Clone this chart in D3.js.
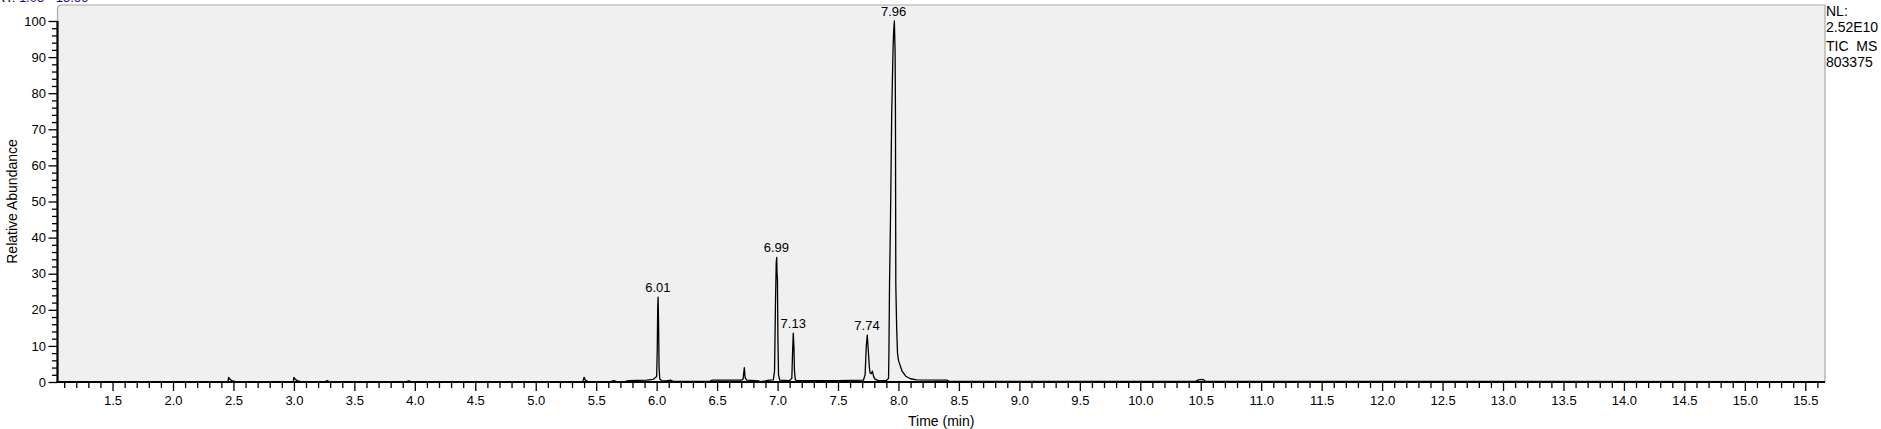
<!DOCTYPE html>
<html><head><meta charset="utf-8">
<script src="https://cdn.jsdelivr.net/npm/d3@7"></script>
<style>
body{margin:0;background:#fff;overflow:hidden}
svg{display:block}
text{font-family:"Liberation Sans",Arial,sans-serif;fill:#000}
</style>
</head><body>
<svg id="chart" width="1881" height="429"></svg>
<script>
// ---- data ----
const times = [
  1.045, 2.40, 2.455, 2.46, 2.47, 2.49, 2.52,
  2.97, 2.995, 3.00, 3.01, 3.03, 3.06,
  3.26, 3.275, 3.29, 3.93, 3.95, 3.97,
  5.37, 5.39, 5.40, 5.41, 5.43, 5.46,
  5.62, 5.645, 5.67, 5.74, 5.77, 5.92, 5.97, 6.000,
  6.005, 6.009, 6.012, 6.016, 6.020, 6.026, 6.04,
  6.08, 6.115, 6.14, 6.44, 6.46,
  6.70, 6.715, 6.725, 6.732, 6.745, 6.84, 6.86, 6.90, 6.93,
  6.965, 6.975, 6.983, 6.989, 6.993, 6.996, 6.999, 7.003, 7.008, 7.018,
  7.10, 7.118, 7.124, 7.130, 7.135, 7.140, 7.147, 7.16,
  7.50, 7.71, 7.724, 7.734, 7.742, 7.750, 7.759, 7.765, 7.775, 7.784, 7.795, 7.806, 7.833,
  7.90, 7.918, 7.921, 7.926, 7.934, 7.944, 7.955, 7.960, 7.966, 7.972, 7.975, 7.978,
  7.985, 7.992, 8.00, 8.03, 8.06, 8.10, 8.15, 8.40, 8.42,
  10.46, 10.48, 10.52, 10.54, 15.663
];
const abundance = [
  0.1, 0.1, 0.2, 1.3, 0.8, 0.3, 0.1,
  0.1, 0.2, 1.3, 0.8, 0.3, 0.1,
  0.1, 0.4, 0.1, 0.1, 0.35, 0.1,
  0.1, 0.2, 1.3, 0.5, 0.2, 0.1,
  0.1, 0.4, 0.1, 0.2, 0.4, 0.5, 0.7, 1.5,
  9, 21, 23.5, 16, 4, 0.8, 0.4,
  0.3, 0.5, 0.2, 0.2, 0.5,
  0.5, 0.8, 4.0, 1.2, 0.5, 0.3, 0.1, 0.3, 0.5,
  0.6, 3, 22, 33, 34.5, 30, 28.5, 12, 2, 0.5,
  0.4, 1, 8, 13.5, 10, 3, 0.6, 0.4,
  0.4, 0.5, 2, 10, 13, 9, 4.2, 2.5, 2.3, 3.0, 1.5, 0.8, 0.4,
  0.4, 1, 8, 27, 45, 74, 92, 97, 100, 92, 75, 27,
  15, 8, 6, 3, 1.6, 0.9, 0.6, 0.5, 0.2,
  0.2, 0.6, 0.7, 0.2, 0.1
];
const peakLabels = ["6.01", "6.99", "7.13", "7.74", "7.96"];
const xMajorTicks = [1.5,2.0,2.5,3.0,3.5,4.0,4.5,5.0,5.5,6.0,6.5,7.0,7.5,8.0,8.5,9.0,9.5,10.0,10.5,11.0,11.5,12.0,12.5,13.0,13.5,14.0,14.5,15.0,15.5];
const yMajorTicks = [0,10,20,30,40,50,60,70,80,90,100];
const infoLines = ["NL:", "2.52E10", "TIC  MS", "803375"];
const rangeLabel = ["RT: ", "1.03 - 15.66"];
const xTitle = "Time (min)";
const yTitle = "Relative Abundance";

// ---- layout ----
const svg = d3.select("#chart");
const L = 57.5, R = 1825, T = 5, B = 382;
const x = d3.scaleLinear().domain([2.0, 15.5]).range([173, 1805.3]);
const y = d3.scaleLinear().domain([0, 100]).range([B, 21]);

// plot background with rounded top-left corner
svg.append("path")
  .attr("d", `M${L},${B} V${T+4} Q${L},${T} ${L+4},${T} H${R} V${B}`)
  .attr("fill", "#f0f0f0").attr("stroke", "#a9a9a9").attr("stroke-width", 1.2);

// minor ticks
const xMinor = d3.range(11, 157).map(d => d / 10).filter(v => Math.abs(v*2 - Math.round(v*2)) > 1e-6 && v >= x.domain()[0] - 1);
const yMinor = d3.range(0, 101, 2).filter(v => v % 10 !== 0);

const gxMinor = svg.append("g").attr("transform", `translate(0,${B})`)
  .call(d3.axisBottom(x).tickValues(xMinor).tickSize(6).tickFormat(""));
const gx = svg.append("g").attr("transform", `translate(0,${B})`)
  .call(d3.axisBottom(x).tickValues(xMajorTicks).tickSize(9).tickPadding(4.3).tickFormat(d3.format(".1f")));
const gyMinor = svg.append("g").attr("transform", `translate(${L},0)`)
  .call(d3.axisLeft(y).tickValues(yMinor).tickSize(5.5).tickFormat(""));
const gy = svg.append("g").attr("transform", `translate(${L},0)`)
  .call(d3.axisLeft(y).tickValues(yMajorTicks).tickSize(9).tickPadding(2.5));

[gxMinor, gx, gyMinor, gy].forEach(g => {
  g.select(".domain").remove();
  g.selectAll(".tick line").attr("stroke", "#000").attr("stroke-width", 1.3);
  g.selectAll(".tick text").attr("font-size", 13).attr("font-family", '"Liberation Sans",Arial,sans-serif').attr("fill", "#000");
});
// keep minor ticks inside plot range
gxMinor.selectAll(".tick").filter(d => x(d) < L || x(d) > R).remove();

// trace
const pts = times.map((t, i) => [t, abundance[i]]);
svg.append("path").datum(pts)
  .attr("fill", "none").attr("stroke", "#000").attr("stroke-width", 1.3)
  .attr("stroke-linejoin", "round")
  .attr("d", d3.line().x(d => x(d[0])).y(d => y(d[1])));

// axis lines
svg.append("line").attr("x1", L).attr("x2", L).attr("y1", y(100)).attr("y2", B + 1)
  .attr("stroke", "#000").attr("stroke-width", 2.2);
svg.append("line").attr("x1", L - 1).attr("x2", R).attr("y1", B).attr("y2", B)
  .attr("stroke", "#000").attr("stroke-width", 2.2);

// peak labels
peakLabels.forEach(lbl => {
  const t = +lbl;
  const near = pts.filter(p => Math.abs(p[0] - t) < 0.012);
  const top = d3.max(near, p => p[1]);
  svg.append("text").attr("x", x(t)).attr("y", y(top) - 5.5)
    .attr("text-anchor", "middle").attr("font-size", 13).text(lbl);
});

// right info block
const infoY = [16, 32, 51, 67];
infoLines.forEach((s, i) => {
  svg.append("text").attr("x", 1826).attr("y", infoY[i]).attr("font-size", 14)
    .attr("xml:space", "preserve").style("white-space", "pre").text(s);
});

// top-left range label (mostly clipped)
const rl = svg.append("text").attr("x", -4).attr("y", 1.5).attr("font-size", 13);
rl.append("tspan").text(rangeLabel[0]);
rl.append("tspan").attr("fill", "#1010a0").style("fill", "#1010a0").text(rangeLabel[1]);

// axis titles
svg.append("text").attr("x", (L + R) / 2).attr("y", 426).attr("text-anchor", "middle")
  .attr("font-size", 14).text(xTitle);
svg.append("text").attr("transform", `translate(16.5,${(y(100) + B) / 2}) rotate(-90)`)
  .attr("text-anchor", "middle").attr("font-size", 14).text(yTitle);
</script>
</body></html>
